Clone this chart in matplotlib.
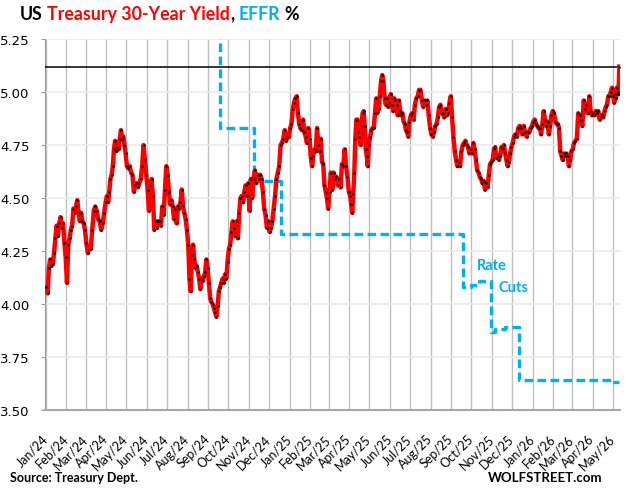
import numpy as np
import pandas as pd
import matplotlib
matplotlib.use('Agg')
import matplotlib.pyplot as plt
import matplotlib.dates as mdates

# 30-year Treasury yield, readings per month (%)
jan24 = [4.08, 4.05, 4.17, 4.21, 4.18, 4.19, 4.24, 4.31, 4.37, 4.32, 4.38, 4.41, 4.36, 4.38, 4.29, 4.22]
feb24 = [4.10, 4.28, 4.31, 4.35, 4.37, 4.45, 4.43, 4.46, 4.49, 4.43, 4.39, 4.43, 4.39, 4.38, 4.35]
mar24 = [4.29, 4.24, 4.26, 4.26, 4.35, 4.44, 4.46, 4.44, 4.40, 4.39, 4.35, 4.38, 4.43, 4.48]
apr24 = [4.51, 4.48, 4.53, 4.59, 4.61, 4.65, 4.73, 4.77, 4.72, 4.74, 4.73, 4.78, 4.82, 4.78, 4.79, 4.75, 4.71]
may24 = [4.65, 4.64, 4.65, 4.62, 4.61, 4.53, 4.56, 4.57, 4.55, 4.57, 4.59, 4.65, 4.75, 4.68, 4.61]
jun24 = [4.54, 4.44, 4.56, 4.59, 4.51, 4.35, 4.39, 4.36, 4.39, 4.39, 4.37, 4.46, 4.42, 4.54, 4.65]
jul24 = [4.61, 4.53, 4.47, 4.49, 4.46, 4.40, 4.45, 4.38, 4.46, 4.45, 4.48, 4.54, 4.46, 4.43, 4.40, 4.35]
aug24 = [4.28, 4.12, 4.06, 4.23, 4.28, 4.21, 4.17, 4.18, 4.15, 4.12, 4.07, 4.12, 4.11, 4.13, 4.15, 4.21, 4.17]
sep24 = [4.10, 4.03, 4.01, 4.00, 3.98, 3.96, 3.94, 3.99, 4.06, 4.08, 4.10, 4.12, 4.10, 4.14, 4.12, 4.20]
oct24 = [4.26, 4.28, 4.34, 4.39, 4.36, 4.32, 4.39, 4.31, 4.43, 4.50, 4.51, 4.48, 4.53, 4.56, 4.51, 4.57]
nov24 = [4.44, 4.59, 4.50, 4.59, 4.63, 4.57, 4.61, 4.59, 4.61, 4.59, 4.53, 4.45, 4.42, 4.36, 4.39]
dec24 = [4.34, 4.36, 4.39, 4.45, 4.51, 4.59, 4.62, 4.65, 4.75, 4.76, 4.78, 4.82, 4.77, 4.79, 4.79]
jan25 = [4.83, 4.85, 4.92, 4.95, 4.97, 4.98, 4.90, 4.85, 4.83, 4.82, 4.87, 4.81, 4.79, 4.76, 4.83, 4.78]
feb25 = [4.69, 4.65, 4.70, 4.73, 4.72, 4.83, 4.75, 4.72, 4.78, 4.67, 4.66, 4.56, 4.53, 4.50, 4.45]
mar25 = [4.53, 4.62, 4.54, 4.62, 4.59, 4.60, 4.56, 4.59, 4.55, 4.66, 4.65, 4.73, 4.65, 4.60, 4.53]
apr25 = [4.51, 4.47, 4.43, 4.52, 4.62, 4.78, 4.87, 4.87, 4.81, 4.79, 4.75, 4.84, 4.90, 4.91, 4.84, 4.73, 4.70, 4.65, 4.75]
may25 = [4.79, 4.82, 4.83, 4.83, 4.90, 4.97, 4.90, 4.92, 4.98, 5.05, 5.08, 5.05, 4.97, 4.94, 4.97, 4.93, 4.95]
jun25 = [4.99, 4.94, 4.91, 4.97, 4.96, 4.94, 4.89, 4.96, 4.91, 4.89, 4.90, 4.86, 4.85, 4.82, 4.81, 4.79, 4.86]
jul25 = [4.89, 4.90, 4.87, 4.94, 4.97, 4.98, 5.01, 5.01, 4.96, 4.93, 4.96, 4.94, 4.96, 4.89, 4.83]
aug25 = [4.80, 4.79, 4.81, 4.84, 4.85, 4.88, 4.93, 4.94, 4.90, 4.90, 4.88, 4.92, 4.89, 4.90, 4.95, 4.98]
sep25 = [4.88, 4.79, 4.72, 4.68, 4.65, 4.67, 4.65, 4.72, 4.75, 4.76, 4.77, 4.75, 4.74, 4.71, 4.73]
oct25 = [4.71, 4.76, 4.73, 4.68, 4.63, 4.62, 4.60, 4.59, 4.57, 4.58, 4.54, 4.57, 4.55, 4.61, 4.66, 4.67]
nov25 = [4.68, 4.73, 4.74, 4.69, 4.70, 4.68, 4.70, 4.74, 4.73, 4.75, 4.71, 4.68, 4.65, 4.67, 4.71, 4.74]
dec25 = [4.76, 4.79, 4.80, 4.79, 4.83, 4.84, 4.83, 4.80, 4.84, 4.81, 4.79, 4.81, 4.81, 4.83, 4.84]
jan26 = [4.86, 4.87, 4.85, 4.84, 4.83, 4.83, 4.80, 4.85, 4.91, 4.87, 4.84, 4.86, 4.80, 4.84, 4.89, 4.91]
feb26 = [4.90, 4.86, 4.85, 4.85, 4.83, 4.72, 4.70, 4.68, 4.71, 4.70, 4.71, 4.70, 4.65, 4.68, 4.72]
mar26 = [4.73, 4.76, 4.77, 4.78, 4.90, 4.89, 4.87, 4.84, 4.96, 4.92, 4.94, 4.90, 4.98, 4.91, 4.89]
apr26 = [4.90, 4.89, 4.91, 4.90, 4.91, 4.87, 4.88, 4.89, 4.88, 4.91, 4.93, 4.94, 4.98, 4.98, 5.00, 5.02]
may26 = [4.98, 4.95, 4.99, 4.97, 5.02, 5.00, 4.99, 5.12]
last_day = '2026-05-11'

# EFFR: dates where the rate changed, and the new level
effr_dates = ['2024-01-02', '2024-09-19', '2024-11-08', '2024-12-19', '2025-09-18', '2025-10-01',
              '2025-10-13', '2025-10-30', '2025-11-05', '2025-11-20', '2025-12-11', '2026-04-29', last_day]
effr_vals = [5.33, 4.83, 4.58, 4.33, 4.08, 4.09, 4.11, 3.87, 3.88, 3.89, 3.64, 3.63, 3.63]

monthly = [jan24, feb24, mar24, apr24, may24, jun24, jul24, aug24, sep24, oct24, nov24, dec24,
           jan25, feb25, mar25, apr25, may25, jun25, jul25, aug25, sep25, oct25, nov25, dec25,
           jan26, feb26, mar26, apr26, may26]
months = pd.period_range('2024-01', '2026-05', freq='M')

# spread each month's readings across that month
x, y = [], []
end_ts = pd.Timestamp(last_day)
for m, vals in zip(months, monthly):
    start = m.start_time + pd.Timedelta(days=1)
    end = min((m + 1).start_time - pd.Timedelta(days=1), end_ts)
    x.extend(np.linspace(mdates.date2num(start), mdates.date2num(end), len(vals)))
    y.extend(vals)

BLUE = '#00B0F0'

fig = plt.figure(figsize=(6.27, 4.89), dpi=100)
ax = fig.add_axes([45/627, 1 - 411/489, 575/627, 371/489])

ax.axhline(y[-1], color='black', lw=1.1, zorder=3)
ax.plot(mdates.date2num(pd.to_datetime(effr_dates)), effr_vals, color=BLUE, lw=2.4,
        ls=(0, (2.6, 1.3)), drawstyle='steps-post', zorder=4)
ax.plot(x, y, color='red', lw=3.2, zorder=5, solid_joinstyle='round')
ax.plot(x, y, ls='none', marker='o', ms=1.8, mew=0, color='black', zorder=6)

ax.set_ylim(3.5, 5.25)
ax.set_yticks(np.arange(3.5, 5.26, 0.25))
ax.yaxis.set_major_formatter(matplotlib.ticker.FormatStrFormatter('%.2f'))
ax.set_xlim(mdates.date2num(pd.Timestamp('2023-12-31')), mdates.date2num(pd.Timestamp('2026-05-12')))
ax.xaxis.set_major_locator(mdates.MonthLocator())
ax.xaxis.set_major_formatter(mdates.DateFormatter('%b/%y'))

ax.set_axisbelow(True)
ax.yaxis.grid(True, color='#EBEBEB', lw=1.2)
ax.xaxis.grid(True, color='#BFBFBF', lw=1.0)
for s in ['top', 'right']:
    ax.spines[s].set_visible(False)
ax.spines['left'].set_color('#999999')
ax.spines['bottom'].set_color('#A6A6A6')
ax.spines['bottom'].set_linewidth(1.5)

ax.tick_params(axis='y', length=3, color='#999999', pad=8, labelsize=9.5)
ax.tick_params(axis='x', length=0, pad=19)
for lab in ax.get_xticklabels():
    lab.set_rotation(45)
    lab.set_ha('right')
    lab.set_va('center')
    lab.set_rotation_mode('anchor')
    lab.set_fontfamily('Lato')
    lab.set_fontsize(9)

ax.text(mdates.date2num(pd.Timestamp('2025-10-09')), 4.185, 'Rate', color=BLUE,
        fontweight='bold', fontsize=10.5, family='Lato', va='center', ha='left')
ax.text(mdates.date2num(pd.Timestamp('2025-11-10')), 4.08, 'Cuts', color=BLUE,
        fontweight='bold', fontsize=10.5, family='Lato', va='center', ha='left')

# multi-coloured title
pieces = [('US', 'black'), (' ', None), ('Treasury 30-Year Yield', 'red'), (',', 'black'),
          (' ', None), ('EFFR', BLUE), (' ', None), ('%', 'black')]
r = fig.canvas.get_renderer()
tkw = dict(fontsize=12.8, fontweight='bold', family='Lato', va='baseline')
probe = fig.text(0, 0, 'a a', **tkw)
w2 = probe.get_window_extent(r).width
probe.set_text('aa')
space_w = w2 - probe.get_window_extent(r).width
probe.remove()
px = 20
for txt, col in pieces:
    if col is None:
        px += space_w
        continue
    t = fig.text(px / 627, 1 - 20 / 489, txt, color=col, **tkw)
    px += t.get_window_extent(r).width

fig.text(10 / 627, 1 - 478 / 489, 'Source: Treasury Dept.', fontsize=9, fontweight='bold',
         family='Lato', va='center', ha='left')
fig.text(602 / 627, 1 - 478 / 489, 'WOLFSTREET.com', fontsize=9.5, fontweight='bold',
         family='Lato', va='center', ha='right')

fig.savefig('out.png', dpi=100)
